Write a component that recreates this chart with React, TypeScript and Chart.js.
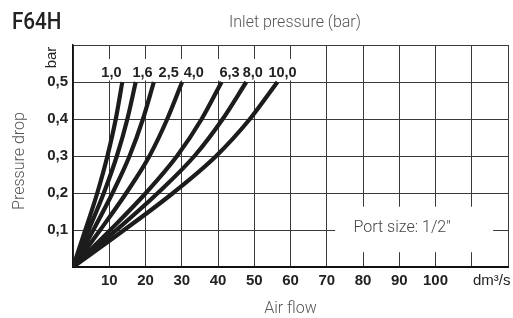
import React, { useEffect, useRef } from 'react';
import { Chart, registerables } from 'chart.js';

Chart.register(...registerables);

// Inlet pressure (bar) for each curve
const pressureLabels = ['1,0', '1,6', '2,5', '4,0', '6,3', '8,0', '10,0'];
// Pressure drop levels (bar) at which flows were read
const dropLevels = [0, 0.1, 0.2, 0.3, 0.4, 0.5];
// Air flow (dm³/s) read at each pressure drop level
const flow10 = [0, 3.4, 6.7, 9.5, 11.8, 13.6];
const flow16 = [0, 4.3, 8.5, 12.1, 15.0, 17.3];
const flow25 = [0, 5.6, 10.9, 15.6, 19.3, 22.3];
const flow40 = [0, 7.5, 14.7, 21.1, 26.0, 30.1];
const flow63 = [0, 10.3, 20.1, 28.7, 35.5, 41.0];
const flow80 = [0, 12.0, 23.4, 33.5, 41.3, 47.8];
const flow100 = [0, 14.1, 27.6, 39.5, 48.8, 56.4];
const flowSeries = [flow10, flow16, flow25, flow40, flow63, flow80, flow100];

const xTickValues = [10, 20, 30, 40, 50, 60, 70, 80, 90, 100];
const yTickLabels = ['', '0,1', '0,2', '0,3', '0,4', '0,5', ''];
const xUnit = 'dm³/s';
const yUnit = 'bar';
const chartTitle = 'F64H';
const topTitle = 'Inlet pressure (bar)';
const yTitle = 'Pressure drop';
const xTitle = 'Air flow';
const portNote = 'Port size: 1/2"';

const LINE = '#1c1c1c';
const GRID = '#3a3a3a';
const TEXT = '#222';
const SOFT = '#555';

const overlay = {
  id: 'overlay',
  beforeDatasetsDraw(chart: any) {
    const { ctx, chartArea, scales } = chart;
    const x = scales.x;
    const y = scales.y;
    ctx.save();
    ctx.fillStyle = '#fff';
    // band behind curve labels
    const bandTop = chartArea.top + 14;
    const bandBottom = y.getPixelForValue(0.5) - 1.5;
    ctx.fillRect(chartArea.left + 1.5, bandTop, x.getPixelForValue(67.5) - chartArea.left - 1.5, bandBottom - bandTop);
    // port size box
    const bx0 = x.getPixelForValue(72.3);
    const bx1 = x.getPixelForValue(115.9);
    const by0 = y.getPixelForValue(0.163);
    const by1 = y.getPixelForValue(0.04);
    ctx.fillRect(bx0, by0, bx1 - bx0, by1 - by0);
    ctx.restore();
  },
  afterDraw(chart: any) {
    const { ctx, chartArea, scales } = chart;
    const x = scales.x;
    const y = scales.y;
    ctx.save();
    // curve labels
    const anchors = [10.6, 19.2, 26.4, 33.3, 43.2, 49.6, 57.8];
    ctx.font = 'bold 14.5px "Liberation Sans", Arial, sans-serif';
    ctx.fillStyle = TEXT;
    ctx.textAlign = 'center';
    ctx.textBaseline = 'middle';
    pressureLabels.forEach((lab, i) => {
      ctx.fillText(lab, x.getPixelForValue(anchors[i]), y.getPixelForValue(0.5) - 9);
    });
    // port note
    ctx.font = '300 16px Roboto, sans-serif';
    ctx.fillStyle = '#444';
    ctx.fillText(portNote, x.getPixelForValue(90.8), y.getPixelForValue(0.1) - 2);
    // top title
    ctx.font = '300 16px Roboto, sans-serif';
    ctx.fillStyle = SOFT;
    ctx.fillText(topTitle, 295, 23);
    // x title
    ctx.fillText(xTitle, (chartArea.left + chartArea.right) / 2, 309);
    // y title
    ctx.save();
    ctx.translate(20, 161);
    ctx.rotate(-Math.PI / 2);
    ctx.fillText(yTitle, 0, 0);
    ctx.restore();
    // unit bar
    ctx.save();
    ctx.font = '15px "Liberation Sans", Arial, sans-serif';
    ctx.fillStyle = TEXT;
    ctx.translate(52, 57.5);
    ctx.rotate(-Math.PI / 2);
    ctx.fillText(yUnit, 0, 0);
    ctx.restore();
    // unit dm3/s
    ctx.font = '15px "Liberation Sans", Arial, sans-serif';
    ctx.fillStyle = TEXT;
    ctx.textAlign = 'left';
    ctx.fillText(xUnit, 473, chartArea.bottom + 14);
    // chart title
    ctx.save();
    ctx.font = '500 24px Roboto, sans-serif';
    ctx.fillStyle = TEXT;
    ctx.textBaseline = 'alphabetic';
    ctx.translate(12, 29);
    ctx.scale(0.86, 1);
    ctx.fillText(chartTitle, 0, 0);
    ctx.restore();
    ctx.restore();
  },
};

export default function App() {
  const ref = useRef<HTMLCanvasElement>(null);
  useEffect(() => {
    if (!ref.current) return;
    const datasets = flowSeries.map((flows, i) => ({
      label: pressureLabels[i],
      data: dropLevels.map((d, j) => ({ x: flows[j], y: d })),
      borderColor: LINE,
      backgroundColor: LINE,
      borderWidth: 4.2,
      pointRadius: 0,
      cubicInterpolationMode: 'monotone' as const,
      fill: false,
    }));
    const chart = new Chart(ref.current, {
      type: 'line',
      data: { datasets },
      options: {
        animation: false,
        responsive: false,
        maintainAspectRatio: false,
        layout: { padding: { top: 45, right: 0, left: 0, bottom: 0 } },
        plugins: { legend: { display: false }, tooltip: { enabled: false } },
        scales: {
          x: {
            type: 'linear',
            min: 0,
            max: 120,
            afterFit: (s: any) => { s.height = 51; },
            ticks: {
              stepSize: 10,
              autoSkip: false,
              maxRotation: 0,
              padding: 5,
              color: TEXT,
              font: { family: '"Liberation Sans", Arial, sans-serif', size: 15, weight: 'bold' },
              callback: (v: any) => (xTickValues.includes(Number(v)) ? String(v) : ''),
            },
            grid: { color: GRID, lineWidth: 1, drawTicks: false },
            border: { color: '#111', width: 2 },
          },
          y: {
            type: 'linear',
            min: 0,
            max: 0.6,
            afterFit: (s: any) => { s.width = 73; },
            ticks: {
              stepSize: 0.1,
              padding: 5,
              color: TEXT,
              font: { family: '"Liberation Sans", Arial, sans-serif', size: 15, weight: 'bold' },
              callback: (_v: any, i: number) => yTickLabels[i] ?? '',
            },
            grid: { color: GRID, lineWidth: 1, drawTicks: false },
            border: { color: '#111', width: 1.5 },
          },
        },
      },
      plugins: [overlay],
    });
    return () => chart.destroy();
  }, []);
  return (
    <div style={{ position: 'fixed', left: 0, top: 0, width: 513, height: 318, background: '#fff' }}>
      <canvas ref={ref} width={513} height={318} />
    </div>
  );
}
